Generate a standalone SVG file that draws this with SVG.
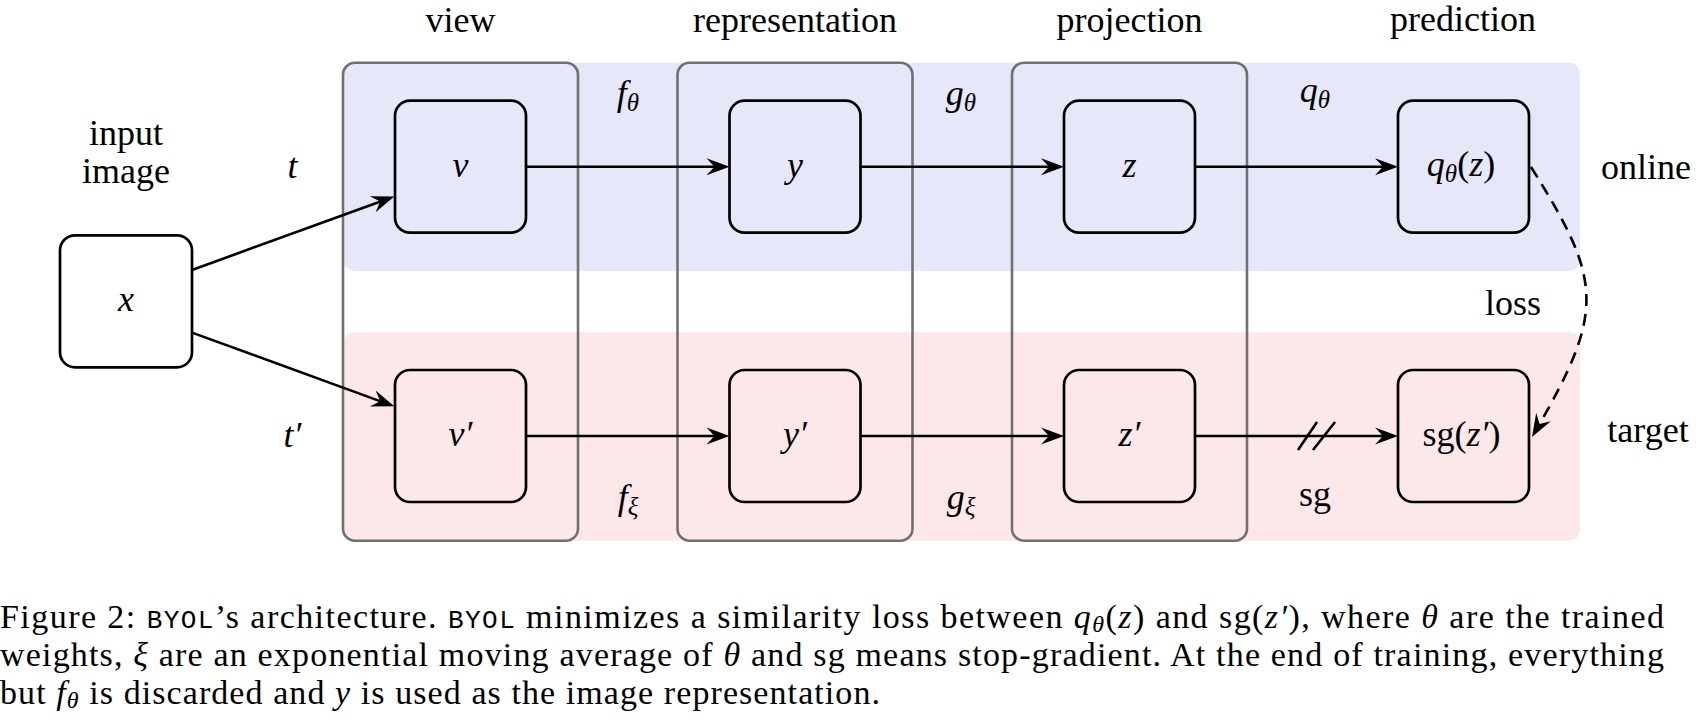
<svg xmlns="http://www.w3.org/2000/svg" width="1696" height="720" viewBox="0 0 1696 720" font-family="Liberation Serif">
<defs>
<marker id="arr" viewBox="-30 -12 32 24" markerWidth="32" markerHeight="24" refX="-8" refY="0" orient="auto" markerUnits="userSpaceOnUse">
<path d="M0,0 L-23,-8.5 L-15,0 L-23,8.5 Z" fill="#000"/>
</marker>
</defs>
<rect x="0" y="0" width="1696" height="720" fill="#fff"/>

<g id="bands">
<rect fill="#E6E8FA" x="343.3" y="62.7" width="1236.7" height="208.3" rx="11"/>
<rect fill="#FDE8E9" x="343.3" y="332.3" width="1236.7" height="208.4" rx="11"/>
</g>

<g id="groups" fill="none" stroke="#707070" stroke-width="2.6">
<rect x="343" y="62.7" width="235" height="478" rx="12"/>
<rect x="677.5" y="62.7" width="235" height="478" rx="12"/>
<rect x="1012" y="62.7" width="235" height="478" rx="12"/>
</g>

<g id="titles" font-family="Liberation Serif" font-size="36" text-anchor="middle" fill="#000">
<text x="460.5" y="32">view</text>
<text x="795" y="32">representation</text>
<text x="1129.5" y="32">projection</text>
<text x="1463" y="31">prediction</text>
<text x="126" y="145">input</text>
<text x="126" y="183">image</text>
<text x="1646" y="179">online</text>
<text x="1648" y="442">target</text>
<text x="1513" y="315">loss</text>
</g>

<g id="connectors" fill="none" stroke="#000" stroke-width="2.6">
<path d="M192,270 L386.8,199.2" marker-end="url(#arr)"/>
<path d="M192,332.6 L386.8,403.6" marker-end="url(#arr)"/>
<path d="M526,166.7 H721.5" marker-end="url(#arr)"/>
<path d="M860.5,166.7 H1056" marker-end="url(#arr)"/>
<path d="M1195,166.7 H1390" marker-end="url(#arr)"/>
<path d="M526,436 H721.5" marker-end="url(#arr)"/>
<path d="M860.5,436 H1056" marker-end="url(#arr)"/>
<path d="M1195,436 H1390" marker-end="url(#arr)"/>
<path d="M1298,450 L1317,422 M1313,450 L1335,422"/>
<path d="M1531,167 C1602,280 1606,310 1536,430" stroke-dasharray="12 8" marker-end="url(#arr)"/>
</g>

<g id="edge-labels" font-family="Liberation Serif" font-size="36" text-anchor="middle" fill="#000">
<text x="292.5" y="178" font-style="italic">t</text>
<text x="292.5" y="447" font-style="italic">t′</text>
<text x="628" y="105"><tspan font-style="italic">f</tspan><tspan font-size="25" font-style="italic" dy="6">θ</tspan></text>
<text x="961" y="105"><tspan font-style="italic">g</tspan><tspan font-size="25" font-style="italic" dy="6">θ</tspan></text>
<text x="1315" y="102"><tspan font-style="italic">q</tspan><tspan font-size="25" font-style="italic" dy="6">θ</tspan></text>
<text x="628" y="509"><tspan font-style="italic">f</tspan><tspan font-size="25" font-style="italic" dy="6">ξ</tspan></text>
<text x="961" y="509"><tspan font-style="italic">g</tspan><tspan font-size="25" font-style="italic" dy="6">ξ</tspan></text>
<text x="1315" y="506">sg</text>
</g>

<g id="nodes" stroke="#000" stroke-width="2.7" fill="none">
<g id="node-x"><rect fill="#fff" x="60" y="235.3" width="132" height="132" rx="15"/></g>
<g id="node-v"><rect x="395" y="100.7" width="131" height="132" rx="15"/></g>
<g id="node-y"><rect x="729.5" y="100.7" width="131" height="132" rx="15"/></g>
<g id="node-z"><rect x="1064" y="100.7" width="131" height="132" rx="15"/></g>
<g id="node-q"><rect x="1398" y="100.7" width="131" height="132" rx="15"/></g>
<g id="node-v2"><rect x="395" y="370" width="131" height="132" rx="15"/></g>
<g id="node-y2"><rect x="729.5" y="370" width="131" height="132" rx="15"/></g>
<g id="node-z2"><rect x="1064" y="370" width="131" height="132" rx="15"/></g>
<g id="node-sg"><rect x="1398" y="370" width="131" height="132" rx="15"/></g>
</g>
<g id="node-labels" font-family="Liberation Serif" font-size="36" text-anchor="middle" fill="#000">
<text x="126" y="311" font-style="italic">x</text>
<text x="460.5" y="177" font-style="italic">v</text>
<text x="795" y="177" font-style="italic">y</text>
<text x="1129.5" y="177" font-style="italic">z</text>
<text x="1461" y="176"><tspan font-style="italic">q</tspan><tspan font-size="25" font-style="italic" dy="6">θ</tspan><tspan dy="-6">(</tspan><tspan font-style="italic">z</tspan>)</text>
<text x="460.5" y="446" font-style="italic">v′</text>
<text x="795" y="446" font-style="italic">y′</text>
<text x="1129.5" y="446" font-style="italic">z′</text>
<text x="1461.5" y="446">sg(<tspan font-style="italic">z′</tspan>)</text>
</g>

<g id="caption" font-family="Liberation Serif" font-size="34" fill="#000">
<text x="0" y="628" textLength="1664" lengthAdjust="spacing">Figure 2: <tspan font-family="Liberation Mono" font-size="26">BYOL</tspan>’s architecture. <tspan font-family="Liberation Mono" font-size="26">BYOL</tspan> minimizes a similarity loss between <tspan font-style="italic">q</tspan><tspan font-size="24" font-style="italic" dy="4">θ</tspan><tspan dy="-4">(</tspan><tspan font-style="italic">z</tspan>) and sg(<tspan font-style="italic">z′</tspan>), where <tspan font-style="italic">θ</tspan> are the trained</text>
<text x="0" y="666" textLength="1664" lengthAdjust="spacing">weights, <tspan font-style="italic">ξ</tspan> are an exponential moving average of <tspan font-style="italic">θ</tspan> and sg means stop-gradient. At the end of training, everything</text>
<text x="0" y="704" textLength="880" lengthAdjust="spacing">but <tspan font-style="italic">f</tspan><tspan font-size="24" font-style="italic" dy="4">θ</tspan><tspan dy="-4"> is discarded and </tspan><tspan font-style="italic">y</tspan> is used as the image representation.</text>
</g>
</svg>
